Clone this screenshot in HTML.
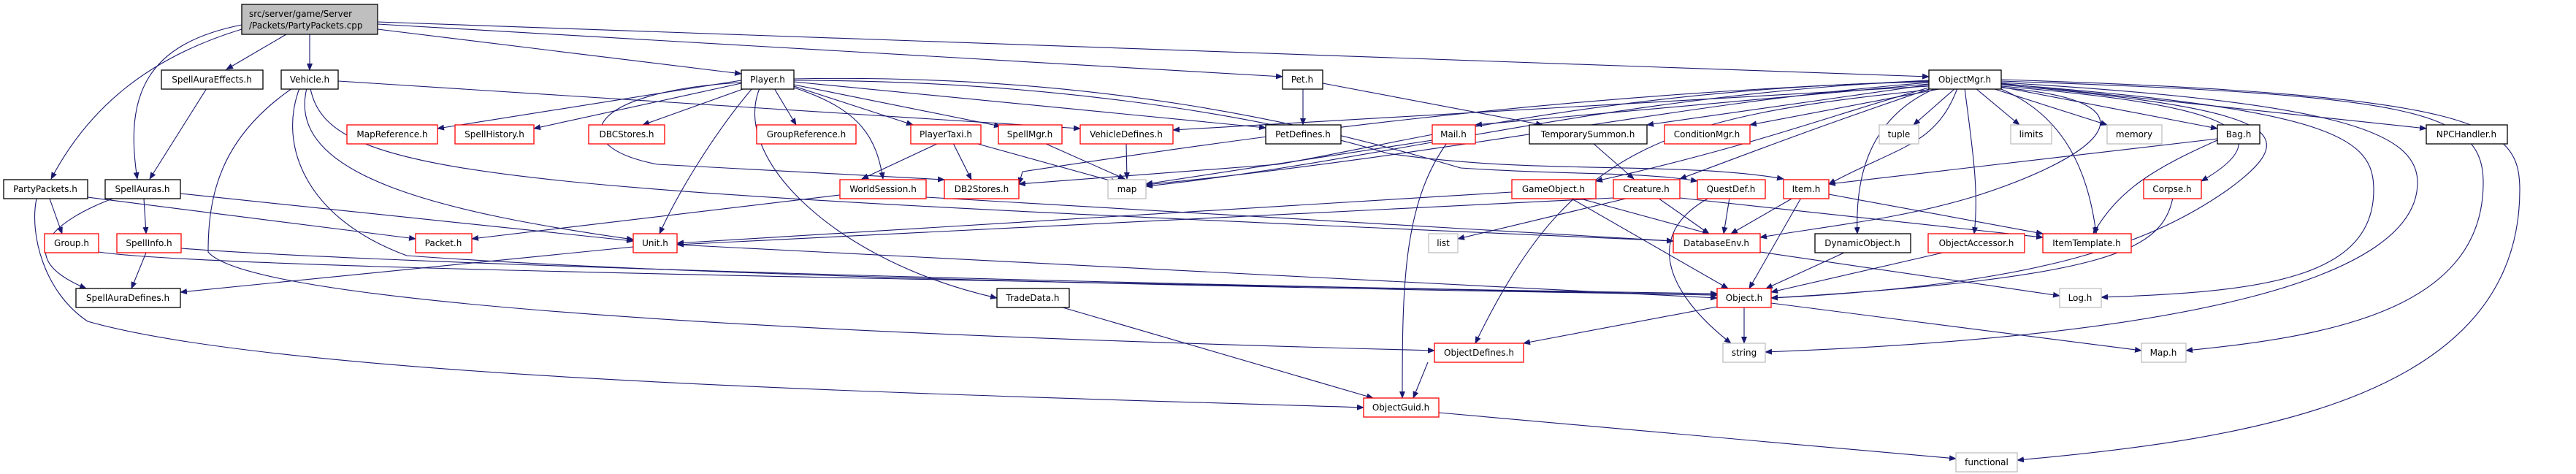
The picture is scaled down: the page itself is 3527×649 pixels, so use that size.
<!DOCTYPE html>
<html><head><meta charset="utf-8"><style>
html,body{margin:0;padding:0;background:#fff;}
svg{display:block;}
text{font-family:"DejaVu Sans","Liberation Sans",sans-serif;font-size:12px;fill:#000;}
.e{fill:none;stroke:#191970;stroke-width:1.1;marker-end:url(#a);}
.b rect{fill:#fff;stroke:#000;stroke-width:1.3;}
.r rect{fill:#fff;stroke:#ff0000;stroke-width:1.3;}
.g rect{fill:#fff;stroke:#bfbfbf;stroke-width:1.3;}
</style></head><body>
<svg width="3527" height="649" viewBox="0 0 3527 649" xmlns="http://www.w3.org/2000/svg">
<defs><marker id="a" markerWidth="10" markerHeight="8" refX="9" refY="4" orient="auto" markerUnits="userSpaceOnUse"><path d="M0,0 L10,4 L0,8 z" fill="#191970"/></marker></defs>

<g>
<path class="e" d="M331,40 C200,80 120,150 70,245"/>
<path class="e" d="M331,34 C200,60 170,130 188,245"/>
<path class="e" d="M392,47 L310,95"/>
<path class="e" d="M424,47 L424,96"/>
<path class="e" d="M517,40 L1015,101"/>
<path class="e" d="M517,33 L1756,105"/>
<path class="e" d="M517,30 L2641,105"/>

<path class="e" d="M463,111 L1479,176"/>
<path class="e" d="M420,121 C390,240 600,290 867,328"/>
<path class="e" d="M410,121 C380,200 420,300 557,350 C900,375 1500,390 2351,404"/>
<path class="e" d="M400,121 C300,190 285,270 285,345 C330,400 800,450 1964,480"/>
<path class="e" d="M425,121 C450,250 700,260 2291,330"/>

<path class="e" d="M1015,110 L599,176"/>
<path class="e" d="M1015,114 L731,176"/>
<path class="e" d="M1020,121 L880,171"/>
<path class="e" d="M1060,121 L1090,171"/>
<path class="e" d="M1087,118 L1250,171"/>
<path class="e" d="M1087,116 L1370,173"/>
<path class="e" d="M1087,120 C1180,150 1200,190 1209,245"/>
<path class="e" d="M1030,121 C980,180 930,260 903,320"/>
<path class="e" d="M1040,121 C1000,220 1150,360 1365,408"/>
<path class="e" d="M1015,113 C800,125 770,200 900,225 L1293,246"/>
<path class="e" d="M1087,112 L1733,175"/>
<path class="e" d="M1087,110 C1400,110 1700,150 1900,210 C2100,240 2300,220 2442,245"/>
<path class="e" d="M1087,108 C1500,100 1800,170 2000,230 C2150,240 2250,235 2324,248"/>
<path class="e" d="M1150,267 L646,327"/>
<path class="e" d="M1268,270 L2291,330"/>

<path class="e" d="M1285,196 L1180,245"/>
<path class="e" d="M1305,196 L1330,246"/>
<path class="e" d="M1335,196 L1530,250"/>
<path class="e" d="M1430,196 L1540,245"/>
<path class="e" d="M1542,196 L1543,245"/>
<path class="e" d="M1784,121 L1784,171"/>
<path class="e" d="M1811,114 L2112,171"/>

<path class="e" d="M2641,115 L2020,171"/>
<path class="e" d="M2641,116 L2255,171"/>
<path class="e" d="M2660,121 L2396,171"/>
<path class="e" d="M2677,121 L2620,171"/>
<path class="e" d="M2705,121 L2765,171"/>
<path class="e" d="M2728,121 L2885,171"/>
<path class="e" d="M2740,119 L3036,176"/>
<path class="e" d="M2740,114 L3322,176"/>
<path class="e" d="M2641,118 L1606,178"/>
<path class="e" d="M2641,112 C2200,120 1900,200 1750,225 L1395,252"/>
<path class="e" d="M2641,110 C2200,130 1900,220 1569,255"/>
<path class="e" d="M2641,113 C2300,140 2000,210 1569,253"/>
<path class="e" d="M2641,120 C2500,160 2400,200 2185,248"/>
<path class="e" d="M2641,122 C2500,170 2420,200 2300,245"/>
<path class="e" d="M2680,121 C2650,200 2600,200 2504,252"/>
<path class="e" d="M2650,121 C2560,160 2540,240 2543,320"/>
<path class="e" d="M2690,121 C2700,200 2710,260 2703,320"/>
<path class="e" d="M2740,122 C2830,160 2860,240 2870,320"/>
<path class="e" d="M2740,118 C3000,140 3150,170 3014,248"/>
<path class="e" d="M2740,120 C2980,140 2860,220 2700,270 C2600,300 2500,310 2410,325"/>
<path class="e" d="M2740,116 C3120,150 3160,180 3050,260 C2950,330 2800,390 2425,408"/>
<path class="e" d="M2641,123 C2280,160 2150,200 2020,470"/>
<path class="e" d="M2740,115 C3200,150 3250,190 3250,260 C3250,380 3100,400 2877,407"/>
<path class="e" d="M2740,113 C3200,140 3310,180 3310,250 C3310,380 3000,460 2417,482"/>
<path class="e" d="M2740,111 C3300,130 3400,150 3400,250 C3400,420 3200,460 2993,480"/>
<path class="e" d="M2740,109 C3400,130 3450,170 3450,260 C3450,540 3100,600 2762,630"/>
<path class="e" d="M2641,111 C2100,130 1700,190 1400,235 L1395,252"/>

<path class="e" d="M2209,271 L927,335"/>
<path class="e" d="M2230,271 L1996,327"/>
<path class="e" d="M2270,271 L2340,320"/>
<path class="e" d="M2300,271 L2797,325"/>
<path class="e" d="M2070,263 L927,333"/>
<path class="e" d="M2160,271 L2340,320"/>
<path class="e" d="M2150,271 L2366,395"/>
<path class="e" d="M2368,271 L2360,320"/>
<path class="e" d="M2340,271 C2250,320 2280,400 2370,470"/>
<path class="e" d="M2455,271 L2370,320"/>
<path class="e" d="M2466,271 L2395,395"/>
<path class="e" d="M2504,266 L2797,320"/>
<path class="e" d="M2181,196 L2237,245"/>
<path class="e" d="M1961,192 L1569,252"/>
<path class="e" d="M1981,196 C1920,280 1920,400 1920,545"/>
<path class="e" d="M2410,345 L2820,405"/>
<path class="e" d="M2525,346 L2418,395"/>
<path class="e" d="M2660,346 L2425,400"/>
<path class="e" d="M2975,271 C2960,340 2900,380 2425,408"/>
<path class="e" d="M3036,190 L2504,252"/>
<path class="e" d="M3036,192 C2950,230 2900,260 2866,320"/>
<path class="e" d="M2351,420 L2086,470"/>
<path class="e" d="M2388,421 L2388,470"/>
<path class="e" d="M2425,415 L2932,480"/>
<path class="e" d="M1955,496 L1935,545"/>
<path class="e" d="M1970,565 L2678,628"/>
<path class="e" d="M1455,421 L1880,545"/>

<path class="e" d="M68,272 L85,320"/>
<path class="e" d="M50,272 C40,320 60,400 120,440 C400,520 1300,540 1867,558"/>
<path class="e" d="M120,270 L569,327"/>
<path class="e" d="M197,272 L200,320"/>
<path class="e" d="M154,272 C80,300 10,350 118,395"/>
<path class="e" d="M247,265 L867,330"/>
<path class="e" d="M283,121 L205,245"/>
<path class="e" d="M135,345 C300,370 1500,385 2351,404"/>
<path class="e" d="M200,346 L180,395"/>
<path class="e" d="M248,340 C500,360 1500,390 2351,402"/>
<path class="e" d="M867,338 L247,400"/>
<path class="e" d="M927,335 L2351,408"/>
</g>

<g>
<g><rect x="331" y="6" width="186" height="41" style="fill:#bfbfbf;stroke:#000;stroke-width:1.3"/><text x="341" y="23">src/server/game/Server</text><text x="341" y="39">/Packets/PartyPackets.cpp</text></g>

<g class="b"><rect x="221" y="96" width="139" height="26"/><text x="290" y="113" text-anchor="middle">SpellAuraEffects.h</text></g>
<g class="b"><rect x="385" y="96" width="78" height="26"/><text x="424" y="113" text-anchor="middle">Vehicle.h</text></g>
<g class="b"><rect x="1015" y="96" width="72" height="26"/><text x="1051" y="113" text-anchor="middle">Player.h</text></g>
<g class="b"><rect x="1756" y="96" width="55" height="26"/><text x="1783" y="113" text-anchor="middle">Pet.h</text></g>
<g class="b"><rect x="2641" y="96" width="99" height="26"/><text x="2690" y="113" text-anchor="middle">ObjectMgr.h</text></g>

<g class="r"><rect x="475" y="171" width="124" height="26"/><text x="537" y="188" text-anchor="middle">MapReference.h</text></g>
<g class="r"><rect x="623" y="171" width="108" height="26"/><text x="677" y="188" text-anchor="middle">SpellHistory.h</text></g>
<g class="r"><rect x="806" y="171" width="104" height="26"/><text x="858" y="188" text-anchor="middle">DBCStores.h</text></g>
<g class="r"><rect x="1036" y="171" width="136" height="26"/><text x="1104" y="188" text-anchor="middle">GroupReference.h</text></g>
<g class="r"><rect x="1247" y="171" width="96" height="26"/><text x="1295" y="188" text-anchor="middle">PlayerTaxi.h</text></g>
<g class="r"><rect x="1367" y="171" width="87" height="26"/><text x="1410" y="188" text-anchor="middle">SpellMgr.h</text></g>
<g class="r"><rect x="1479" y="171" width="127" height="26"/><text x="1542" y="188" text-anchor="middle">VehicleDefines.h</text></g>
<g class="b"><rect x="1733" y="171" width="103" height="26"/><text x="1784" y="188" text-anchor="middle">PetDefines.h</text></g>
<g class="r"><rect x="1961" y="171" width="59" height="26"/><text x="1990" y="188" text-anchor="middle">Mail.h</text></g>
<g class="b"><rect x="2094" y="171" width="161" height="26"/><text x="2174" y="188" text-anchor="middle">TemporarySummon.h</text></g>
<g class="r"><rect x="2279" y="171" width="117" height="26"/><text x="2337" y="188" text-anchor="middle">ConditionMgr.h</text></g>
<g class="g"><rect x="2573" y="171" width="54" height="26"/><text x="2600" y="188" text-anchor="middle">tuple</text></g>
<g class="g"><rect x="2753" y="171" width="56" height="26"/><text x="2781" y="188" text-anchor="middle">limits</text></g>
<g class="g"><rect x="2885" y="171" width="75" height="26"/><text x="2922" y="188" text-anchor="middle">memory</text></g>
<g class="b"><rect x="3036" y="171" width="58" height="26"/><text x="3065" y="188" text-anchor="middle">Bag.h</text></g>
<g class="b"><rect x="3322" y="171" width="111" height="26"/><text x="3377" y="188" text-anchor="middle">NPCHandler.h</text></g>

<g class="b"><rect x="5" y="246" width="115" height="26"/><text x="62" y="263" text-anchor="middle">PartyPackets.h</text></g>
<g class="b"><rect x="144" y="246" width="103" height="26"/><text x="195" y="263" text-anchor="middle">SpellAuras.h</text></g>
<g class="r"><rect x="1150" y="246" width="118" height="26"/><text x="1209" y="263" text-anchor="middle">WorldSession.h</text></g>
<g class="r"><rect x="1293" y="246" width="102" height="26"/><text x="1344" y="263" text-anchor="middle">DB2Stores.h</text></g>
<g class="g"><rect x="1517" y="246" width="52" height="26"/><text x="1543" y="263" text-anchor="middle">map</text></g>
<g class="r"><rect x="2070" y="246" width="115" height="26"/><text x="2127" y="263" text-anchor="middle">GameObject.h</text></g>
<g class="r"><rect x="2209" y="246" width="91" height="26"/><text x="2254" y="263" text-anchor="middle">Creature.h</text></g>
<g class="r"><rect x="2324" y="246" width="93" height="26"/><text x="2370" y="263" text-anchor="middle">QuestDef.h</text></g>
<g class="r"><rect x="2442" y="246" width="62" height="26"/><text x="2473" y="263" text-anchor="middle">Item.h</text></g>
<g class="r"><rect x="2935" y="246" width="79" height="26"/><text x="2974" y="263" text-anchor="middle">Corpse.h</text></g>

<g class="r"><rect x="61" y="320" width="74" height="26"/><text x="98" y="337" text-anchor="middle">Group.h</text></g>
<g class="r"><rect x="160" y="320" width="88" height="26"/><text x="204" y="337" text-anchor="middle">SpellInfo.h</text></g>
<g class="r"><rect x="569" y="320" width="77" height="26"/><text x="607" y="337" text-anchor="middle">Packet.h</text></g>
<g class="r"><rect x="867" y="320" width="60" height="26"/><text x="897" y="337" text-anchor="middle">Unit.h</text></g>
<g class="g"><rect x="1956" y="320" width="40" height="26"/><text x="1976" y="337" text-anchor="middle">list</text></g>
<g class="r"><rect x="2291" y="320" width="119" height="26"/><text x="2350" y="337" text-anchor="middle">DatabaseEnv.h</text></g>
<g class="b"><rect x="2485" y="320" width="131" height="26"/><text x="2550" y="337" text-anchor="middle">DynamicObject.h</text></g>
<g class="r"><rect x="2640" y="320" width="132" height="26"/><text x="2706" y="337" text-anchor="middle">ObjectAccessor.h</text></g>
<g class="r"><rect x="2797" y="320" width="121" height="26"/><text x="2857" y="337" text-anchor="middle">ItemTemplate.h</text></g>

<g class="b"><rect x="104" y="395" width="143" height="26"/><text x="175" y="412" text-anchor="middle">SpellAuraDefines.h</text></g>
<g class="b"><rect x="1365" y="395" width="99" height="26"/><text x="1414" y="412" text-anchor="middle">TradeData.h</text></g>
<g class="r"><rect x="2351" y="395" width="74" height="26"/><text x="2388" y="412" text-anchor="middle">Object.h</text></g>
<g class="g"><rect x="2820" y="395" width="57" height="26"/><text x="2848" y="412" text-anchor="middle">Log.h</text></g>

<g class="r"><rect x="1964" y="470" width="122" height="26"/><text x="2025" y="487" text-anchor="middle">ObjectDefines.h</text></g>
<g class="g"><rect x="2359" y="470" width="58" height="26"/><text x="2388" y="487" text-anchor="middle">string</text></g>
<g class="g"><rect x="2932" y="470" width="61" height="26"/><text x="2962" y="487" text-anchor="middle">Map.h</text></g>

<g class="r"><rect x="1867" y="545" width="103" height="26"/><text x="1918" y="562" text-anchor="middle">ObjectGuid.h</text></g>
<g class="g"><rect x="2678" y="620" width="84" height="26"/><text x="2720" y="637" text-anchor="middle">functional</text></g>
</g>
</svg>
</body></html>
